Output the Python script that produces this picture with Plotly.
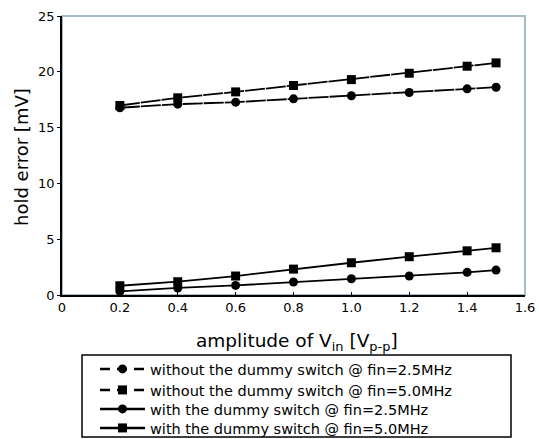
import plotly.graph_objects as go

amplitude = [0.2, 0.4, 0.6, 0.8, 1.0, 1.2, 1.4, 1.5]
without_25 = [16.78, 17.1, 17.28, 17.58, 17.85, 18.15, 18.47, 18.62]
without_50 = [16.98, 17.67, 18.2, 18.77, 19.3, 19.87, 20.5, 20.8]
with_25 = [0.33, 0.63, 0.86, 1.16, 1.46, 1.70, 2.03, 2.23]
with_50 = [0.83, 1.19, 1.7, 2.32, 2.89, 3.43, 3.96, 4.23]

names = [
    "without the dummy switch @ fin=2.5MHz",
    "without the dummy switch @ fin=5.0MHz",
    "with the dummy switch @ fin=2.5MHz",
    "with the dummy switch @ fin=5.0MHz",
]
x_ticks = [0, 0.2, 0.4, 0.6, 0.8, 1.0, 1.2, 1.4, 1.6]
x_tick_text = ["0", "0.2", "0.4", "0.6", "0.8", "1.0", "1.2", "1.4", "1.6"]
y_ticks = [0, 5, 10, 15, 20, 25]
x_title = "amplitude of V<sub>in</sub> [V<sub>p-p</sub>]"
y_title = "hold error [mV]"

FONT = "DejaVu Sans, Liberation Sans, sans-serif"
fig = go.Figure()

series = [
    (without_25, "circle", "20px,1px", names[0]),
    (without_50, "square", "20px,1px", names[1]),
    (with_25, "circle", "solid", names[2]),
    (with_50, "square", "solid", names[3]),
]
legend_ids = ["legend", "legend2", "legend3", "legend4"]
row_y = [369, 390, 409, 428]

# data traces (hidden from legend)
for ys, sym, dash, nm in series:
    fig.add_trace(go.Scatter(
        x=amplitude, y=ys, mode="lines+markers", name=nm, showlegend=False,
        line=dict(color="black", width=1.8, dash=dash),
        marker=dict(symbol=sym, size=9, color="black"),
    ))
# legend entries, one legend per row
for (ys, sym, dash, nm), lid in zip(series, legend_ids):
    fig.add_trace(go.Scatter(
        x=[None], y=[None], mode="lines+markers", name=nm, showlegend=True,
        legend=lid,
        line=dict(color="black", width=2.5, dash="10px,7px" if dash != "solid" else "solid"),
        marker=dict(symbol=sym, size=9, color="black"),
    ))

legend_layout = {}
for lid, ry in zip(legend_ids, row_y):
    legend_layout[lid] = dict(
        xref="container", yref="container",
        x=95 / 539, y=1 - ry / 439, xanchor="left", yanchor="middle",
        borderwidth=0, bgcolor="rgba(0,0,0,0)",
        font=dict(family=FONT, size=14.5), itemwidth=45,
    )

fig.update_layout(
    width=539, height=439,
    margin=dict(l=62, r=14, t=16, b=144, autoexpand=False),
    paper_bgcolor="white", plot_bgcolor="white",
    font=dict(family=FONT, size=13, color="black"),
    showlegend=True,
    shapes=[
        dict(type="rect", xref="paper", yref="paper", x0=0, x1=1, y0=0, y1=1,
             line=dict(color="#a9bcc6", width=2), layer="below"),
        dict(type="rect", xref="paper", yref="paper",
             x0=(82 - 62) / 463, x1=(511 - 62) / 463,
             y0=(295 - 437) / 279, y1=(295 - 355) / 279,
             line=dict(color="black", width=1.5), fillcolor="rgba(0,0,0,0)"),
    ],
    annotations=[
        dict(text=x_title, xref="paper", yref="paper",
             x=(297 - 62) / 463, y=(295 - 342) / 279, xanchor="center", yanchor="middle",
             showarrow=False, font=dict(size=18.5)),
        dict(text=y_title, xref="paper", yref="paper", textangle=-90,
             x=(21 - 62) / 463, y=(295 - 157) / 279, xanchor="center", yanchor="middle",
             showarrow=False, font=dict(size=18)),
    ],
    **legend_layout,
)
fig.update_xaxes(
    range=[0, 1.6], tickmode="array", tickvals=x_ticks, ticktext=x_tick_text,
    showgrid=False, zeroline=False, showline=True, linecolor="black", linewidth=1.5,
    ticks="inside", ticklen=3, tickcolor="black",
    tickfont=dict(size=13),
)
fig.update_yaxes(
    range=[0, 25], tickmode="array", tickvals=y_ticks,
    showgrid=False, zeroline=False, showline=True, linecolor="black", linewidth=1.5,
    ticks="outside", ticklen=3, tickcolor="black",
    tickfont=dict(size=13),
)

fig.write_html("out.html")
